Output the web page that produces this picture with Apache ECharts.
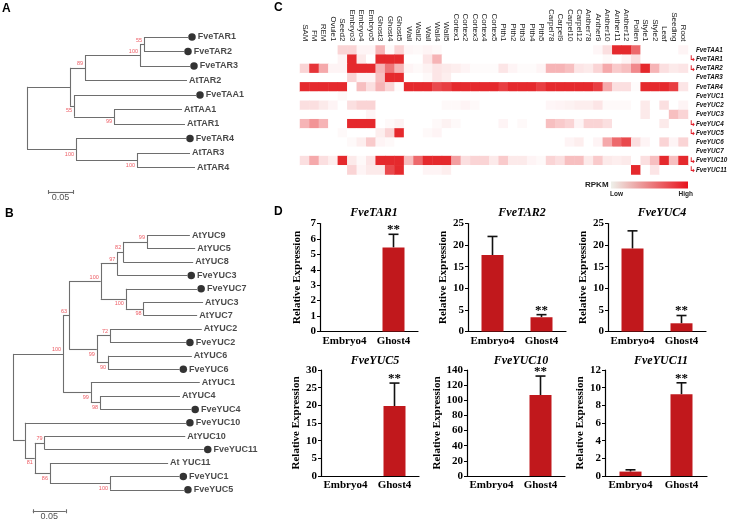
<!DOCTYPE html>
<html><head><meta charset="utf-8">
<script src="https://cdn.jsdelivr.net/npm/echarts@6/dist/echarts.min.js"></script>
<style>html,body{margin:0;padding:0;background:#fff}#c{width:729px;height:520px}</style>
</head><body><div id="c"></div>
<script>
// ---------- Panel A: TAA/TAR tree ----------
const treeALeaves = ['FveTAR1','FveTAR2','FveTAR3','AtTAR2','FveTAA1','AtTAA1','AtTAR1','FveTAR4','AtTAR3','AtTAR4'];
const treeALeafDepth = [0.322,0.314,0.326,0.320,0.338,0.310,0.316,0.318,0.326,0.336];
const treeANodes = ['a2','a1','a','b1','b','c1','cl1','cl2','root'];
const treeANodeKids = [['FveTAR1','FveTAR2'],['a2','FveTAR3'],['a1','AtTAR2'],['AtTAA1','AtTAR1'],['FveTAA1','b1'],['AtTAR3','AtTAR4'],['a','b'],['FveTAR4','c1'],['cl1','cl2']];
const treeANodeDepth = [0.234,0.226,0.116,0.174,0.094,0.220,0.086,0.098,0];
const treeANodeBoot = ['55','100','89','99','55','100','','100',''];
const treeAScale = 0.05;

// ---------- Panel B: YUC tree ----------
const treeBLeaves = ['AtYUC9','AtYUC5','AtYUC8','FveYUC3','FveYUC7','AtYUC3','AtYUC7','AtYUC2','FveYUC2','AtYUC6','FveYUC6','AtYUC1','AtYUC4','FveYUC4','FveYUC10','AtYUC10','FveYUC11','At YUC11','FveYUC1','FveYUC5'];
const treeBLeafDepth = [0.268,0.276,0.273,0.264,0.279,0.288,0.279,0.286,0.262,0.271,0.252,0.283,0.253,0.270,0.262,0.261,0.289,0.235,0.252,0.259];
const treeBNodes = ['n1','n2','n3','n4','n5','n6','n7','n8','n9','n10','n11','n12','n13','n15','n14','n16','n17','n18','root'];
const treeBNodeKids = [['AtYUC9','AtYUC5'],['n1','AtYUC8'],['n2','FveYUC3'],['AtYUC3','AtYUC7'],['FveYUC7','n4'],['n3','n5'],['AtYUC2','FveYUC2'],['AtYUC6','FveYUC6'],['n7','n8'],['n6','n9'],['AtYUC4','FveYUC4'],['AtYUC1','n11'],['n10','n12'],['FveYUC1','FveYUC5'],['At YUC11','n15'],['AtYUC10','FveYUC11'],['n16','n14'],['FveYUC10','n17'],['n13','n18']];
const treeBNodeDepth = [0.203,0.167,0.158,0.198,0.171,0.133,0.147,0.144,0.127,0.085,0.132,0.118,0.076,0.147,0.056,0.048,0.033,0.018,0];
const treeBNodeBoot = ['99','82','97','98','100','100','72','90','99','63','98','99','100','100','86','79','81','',''];
const treeBScale = 0.05;

// ---------- Panel C: RPKM heatmap ----------
const heatCols = ['SAM','FM','REM','Ovule1','Seed2','Embryo3','Embryo4','Embryo5','Ghost3','Ghost4','Ghost5','Wall','Wall2','Wall','Wall4','Wall5','Cortex1','Cortex2','Cortex3','Cortex4','Cortex5','Pith1','Pith2','Pith3','Pith4','Pith5','Carpel78','Carpel9','Carpel10','Carpel12','Anther78','Anther9','Anther10','Anther11','Anther12','Pollen','Style1','Style2','Leaf','Seeding','Root'];
const heatRows = ['FveTAA1','FveTAR1','FveTAR2','FveTAR3','FveTAR4','FveYUC1','FveYUC2','FveYUC3','FveYUC4','FveYUC5','FveYUC6','FveYUC7','FveYUC10','FveYUC11'];
const markedGenes = ['FveTAR1','FveTAR2','FveYUC4','FveYUC5','FveYUC10','FveYUC11'];
const rpkmTAA1  = [0,0,0,0,.2,.2,.05,.05,.35,.03, .2,.04,.03,.05,.03,0,0,0,0,0, 0,0,0,0,0,0,0,0,0,0, 0,.04,.15,1,1,.7,0,0,0,0,.05];
const rpkmTAR1  = [0,0,0,0,.05,1,.1,0,1,1, 1,0,0,.12,.35,0,0,0,0,0, 0,0,0,0,0,0,0,0,0,0, 0,0,.03,0,.05,.15,0,0,0,0,0];
const rpkmTAR2  = [.2,.95,.4,.05,.05,1,1,1,.35,.65, .35,.05,.03,.06,.12,.1,.08,.05,.02,.02, .02,.12,.05,.02,.02,.05,.35,.35,.3,.12, .1,.2,.4,.25,.3,.55,1,.35,.15,.1,.12];
const rpkmTAR3  = [0,0,0,0,0,.2,.05,.05,.3,1, 1,0,0,.03,.12,.08,0,0,0,0, 0,0,0,0,0,0,0,0,0,0, 0,0,0,0,0,0,0,0,0,0,0];
const rpkmTAR4  = [1,1,1,1,1,0,.3,.15,.35,.2, .02,1,1,1,.85,.9,1,1,1,1, 1,.9,1,1,1,.9,1,1,1,1, 1,.9,.4,.15,.15,.02,1,1,1,.9,.12];
const rpkmYUC1  = [0,0,0,0,.03,0,0,0,0,0, 0,0,0,0,0,0,0,0,0,0, 0,0,0,0,0,0,0,0,0,0, 0,0,0,0,0,0,0,0,0,0,0];
const rpkmYUC2  = [.15,.15,.1,.05,0,.15,.2,.2,0,0, 0,0,0,0,0,.03,.03,.05,.03,0, 0,0,0,0,0,0,.04,.05,.06,.08, .08,.12,.03,.03,.03,0,.1,0,.15,0,.05];
const rpkmYUC3  = [0,0,0,0,0,0,0,.05,0,0, 0,0,0,0,0,0,0,0,0,0, 0,0,0,0,0,0,0,0,0,0, 0,0,0,0,0,0,.1,0,0,.3,.2];
const rpkmYUC4  = [.35,.5,.35,0,0,1,1,1,0,.03, .06,0,0,0,.03,.06,.03,0,0,0, 0,.05,0,.03,0,0,.3,.25,.2,.05, .2,.2,.15,0,0,0,0,0,.1,0,0];
const rpkmYUC5  = [0,0,0,0,.03,0,0,0,.08,.2, 1,0,0,.03,.05,0,0,0,0,0, 0,0,0,0,0,0,0,0,0,0, 0,0,0,0,0,0,0,0,0,0,0];
const rpkmYUC6  = [0,0,0,0,0,.03,.08,.25,.05,.03, 0,0,0,0,0,0,0,0,0,0, 0,0,0,0,0,0,0,0,.05,.08, 0,.05,.4,.7,.85,.15,.05,0,.2,.05,.2];
const rpkmYUC7  = [0,0,0,0,0,0,0,0,0,0, 0,0,0,0,0,0,0,0,0,0, 0,0,0,0,0,0,0,0,0,0, 0,0,0,0,0,0,0,0,0,0,0];
const rpkmYUC10 = [.15,.4,.15,.08,1,.1,.03,.12,1,1, 1,.3,.7,1,1,1,.45,.15,.2,.2, .1,.25,.1,.1,.05,.03,.2,.15,.3,.3, .1,.25,.1,.08,.1,0,.15,.3,1,.3,1];
const rpkmYUC11 = [0,0,0,0,0,.2,.05,.1,.1,.85, 1,0,0,.05,.05,.08,0,0,0,0, 0,0,0,0,0,0,0,0,0,0, 0,0,0,0,0,1,0,.12,0,0,0];
const heatValues = [rpkmTAA1,rpkmTAR1,rpkmTAR2,rpkmTAR3,rpkmTAR4,rpkmYUC1,rpkmYUC2,rpkmYUC3,rpkmYUC4,rpkmYUC5,rpkmYUC6,rpkmYUC7,rpkmYUC10,rpkmYUC11];

// ---------- Panel D: qRT-PCR ----------
const qpcrGenes = ['FveTAR1','FveTAR2','FveYUC4','FveYUC5','FveYUC10','FveYUC11'];
const qpcrSamples = ['Embryo4','Ghost4'];
const qpcrMean = [[0,5.45],[17.7,3.3],[19.2,1.9],[0,19.8],[0,107],[0.5,9.25]];
const qpcrErr  = [[0,0.85],[4.3,0.6],[4.1,1.8],[0,6.5],[0,25],[0.2,1.3]];
const qpcrSig  = [['','**'],['','**'],['','**'],['','**'],['','**'],['','**']];
const qpcrYMax = [7,25,25,30,140,12];
const qpcrYStep = [1,5,5,5,20,2];

// ================= build =================
const chart = echarts.init(document.getElementById('c'));
const SANS = 'Liberation Sans';
const SERIF = 'Liberation Serif';

function buildTree(leaves, leafDepth, nodes, kids, depth, boot) {
  const pos = {};
  leaves.forEach((n, i) => { pos[n] = {x: leafDepth[i], y: i}; });
  const segs = [], boots = [];
  nodes.forEach((id, i) => {
    const k = kids[i].map(c => pos[c]);
    const x = depth[i];
    const y = (k[0].y + k[1].y) / 2;
    pos[id] = {x, y};
    segs.push({coords: [[x, k[0].y], [x, k[1].y]]});
    k.forEach(c => segs.push({coords: [[x, c.y], [c.x, c.y]]}));
    if (boot[i]) boots.push({id, name: boot[i], value: [x, y]});
  });
  return {segs, boots};
}

const grids = [], xAxes = [], yAxes = [], series = [];
const lineCol = '#6e6e6e';

function addTree(gi, left, top, pxPerUnit, pxPerLeaf, leaves, leafDepth, nodes, kids, depth, boot, below, scaleX0, scaleY, scaleLen) {
  const nLeaf = leaves.length;
  grids.push({left, top, width: 0.4 * pxPerUnit, height: (nLeaf - 1) * pxPerLeaf, outerBoundsMode: 'none'});
  xAxes.push({gridIndex: gi, type: 'value', min: 0, max: 0.4, show: false});
  yAxes.push({gridIndex: gi, type: 'value', min: 0, max: nLeaf - 1, inverse: true, show: false});
  const t = buildTree(leaves, leafDepth, nodes, kids, depth, boot);
  const tick = 2 / pxPerLeaf;
  t.segs.push({coords: [[scaleX0, scaleY], [scaleX0 + scaleLen, scaleY]]});
  t.segs.push({coords: [[scaleX0, scaleY - tick], [scaleX0, scaleY + tick]]});
  t.segs.push({coords: [[scaleX0 + scaleLen, scaleY - tick], [scaleX0 + scaleLen, scaleY + tick]]});
  series.push({type: 'lines', coordinateSystem: 'cartesian2d', xAxisIndex: gi, yAxisIndex: gi, polyline: false, silent: true, clip: false,
    lineStyle: {color: lineCol, width: 1.1, opacity: 1}, data: t.segs});
  series.push({type: 'scatter', xAxisIndex: gi, yAxisIndex: gi, clip: false, silent: true,
    data: leaves.map((n, i) => {
      const fve = n.indexOf('Fve') === 0;
      return {name: n, value: [leafDepth[i], i], symbol: 'circle', symbolSize: fve ? 7.5 : 0,
        symbolOffset: fve ? [4, 0] : [0, 0], itemStyle: {color: fve ? '#000' : 'rgba(0,0,0,0)'},
        label: {show: true, position: 'right', distance: 2, formatter: '{b}',
          color: '#1a1a1a', fontSize: 9, fontWeight: 'bold', fontFamily: SANS}};
    })});
  series.push({type: 'scatter', xAxisIndex: gi, yAxisIndex: gi, clip: false, silent: true, symbolSize: 0,
    data: t.boots.map(b => ({name: b.name, value: b.value,
      label: {show: true, position: 'left', distance: 2, offset: [0, below.has(b.id) ? 5 : -4], formatter: '{b}',
        color: '#e8303a', fontSize: 5.5, fontFamily: SANS}}))});
  series.push({type: 'scatter', xAxisIndex: gi, yAxisIndex: gi, clip: false, silent: true, symbolSize: 0,
    data: [{name: String(scaleLen), value: [scaleX0 + scaleLen / 2, scaleY],
      label: {show: true, position: 'bottom', distance: 1, formatter: '{b}', color: '#222', fontSize: 9, fontFamily: SANS}}]});
}

addTree(0, 27, 37, 500, 14.5, treeALeaves, treeALeafDepth, treeANodes, treeANodeKids, treeANodeDepth, treeANodeBoot,
  new Set(['b1', 'b', 'c1', 'cl2']), 0.042, 10.69, treeAScale);
addTree(1, 13, 235.2, 660, 13.4, treeBLeaves, treeBLeafDepth, treeBNodes, treeBNodeKids, treeBNodeDepth, treeBNodeBoot,
  new Set(['n5', 'n4', 'n9', 'n8', 'n12', 'n11', 'n17', 'n14', 'n15']), 0.030, 20.6, treeBScale);

// heatmap
grids.push({left: 300, top: 45.5, width: 388, height: 129, outerBoundsMode: 'none'});
xAxes.push({gridIndex: 2, type: 'category', data: heatCols, position: 'top',
  axisLine: {show: false}, axisTick: {show: false}, splitLine: {show: false},
  axisLabel: {interval: 0, rotate: 90, margin: 4, fontSize: 8, color: '#222', fontFamily: SANS}});
yAxes.push({gridIndex: 2, type: 'category', data: heatRows, inverse: true, position: 'right',
  axisLine: {show: false}, axisTick: {show: false}, splitLine: {show: false},
  axisLabel: {interval: 0, margin: 1, align: 'left',
    formatter: v => (markedGenes.indexOf(v) >= 0 ? '{a|↳}' : '{s|}') + '{n|' + v + '}',
    rich: {a: {color: '#e0202a', fontSize: 8, fontWeight: 'bold', width: 7, fontFamily: 'DejaVu Sans'},
      s: {width: 7},
      n: {fontSize: 6.3, fontStyle: 'italic', fontWeight: 'bold', color: '#111', fontFamily: SANS}}}});
const heatData = [];
heatValues.forEach((row, r) => row.forEach((v, c) => heatData.push([c, r, v])));
const heatSeriesIndex = series.length;
series.push({type: 'heatmap', xAxisIndex: 2, yAxisIndex: 2, data: heatData, silent: true,
  itemStyle: {borderWidth: 0}, emphasis: {disabled: true}});

// bar charts
const barLayout = [
  {left: 320, top: 223.5}, {left: 468, top: 223.5}, {left: 608, top: 223.5},
  {left: 321, top: 370}, {left: 467, top: 370}, {left: 605, top: 370}];
const titleY = [213, 213, 213, 361, 361, 361];
const graphics = [];
qpcrGenes.forEach((g, k) => {
  const gi = 3 + k;
  const L = barLayout[k];
  const w = k === 5 ? 102 : 98;
  const h = k < 3 ? 108 : 106;
  grids.push({left: L.left, top: L.top, width: w, height: h, outerBoundsMode: 'none'});
  xAxes.push({gridIndex: gi, type: 'category', data: qpcrSamples,
    axisLine: {show: true, lineStyle: {color: '#000', width: 1.2}}, axisTick: {show: false},
    axisLabel: {interval: 0, margin: 4, fontSize: 11, fontWeight: 'bold', color: '#000', fontFamily: SERIF}});
  yAxes.push({gridIndex: gi, type: 'value', min: 0, max: qpcrYMax[k], interval: qpcrYStep[k],
    axisLine: {show: true, lineStyle: {color: '#000', width: 1.2}},
    axisTick: {show: true, length: 3, lineStyle: {color: '#000'}}, splitLine: {show: false},
    axisLabel: {margin: 4, fontSize: 11, fontWeight: 'bold', color: '#000', fontFamily: SERIF},
    name: 'Relative Expression', nameLocation: 'middle', nameGap: k === 4 ? 19 : (k === 5 ? 14 : 17), nameRotate: 90,
    nameTextStyle: {fontSize: 11, fontWeight: 'bold', color: '#000', fontFamily: SERIF}});
  series.push({type: 'bar', xAxisIndex: gi, yAxisIndex: gi, data: qpcrMean[k], barWidth: 22, silent: true,
    itemStyle: {color: '#c1181c'}});
  series.push({type: 'custom', xAxisIndex: gi, yAxisIndex: gi, silent: true, clip: false,
    data: qpcrSamples.map((s, j) => [j, qpcrMean[k][j], qpcrErr[k][j]]),
    renderItem: (params, api) => {
      const j = api.value(0), m = api.value(1), e = api.value(2);
      const base = api.coord([j, m]);
      const top = api.coord([j, m + e]);
      const children = [];
      if (e > 0) {
        children.push({type: 'line', shape: {x1: base[0], y1: base[1], x2: top[0], y2: top[1]}, style: {stroke: '#111', lineWidth: 1.6}});
        children.push({type: 'line', shape: {x1: top[0] - 5, y1: top[1], x2: top[0] + 5, y2: top[1]}, style: {stroke: '#111', lineWidth: 1.6}});
      }
      const sig = qpcrSig[k][params.dataIndex];
      if (sig) children.push({type: 'text', x: top[0], y: top[1] - 4.5,
        style: {text: sig, fill: '#000', align: 'center', verticalAlign: 'middle', fontSize: 13, fontWeight: 'bold', fontFamily: SERIF}});
      return {type: 'group', children};
    }});
  graphics.push({type: 'text', x: L.left + w / 2 + 5, y: titleY[k],
    style: {text: g, align: 'center', verticalAlign: 'middle', fill: '#000', fontSize: 12, fontWeight: 'bold', fontStyle: 'italic', fontFamily: SERIF}});
});

// panel letters and legend
[['A', 2, 3], ['B', 5, 208], ['C', 274, 2], ['D', 274, 206]].forEach(p => graphics.push({type: 'text', x: p[1], y: p[2],
  style: {text: p[0], fill: '#000', fontSize: 12, fontWeight: 'bold', fontFamily: SANS}}));
graphics.push({type: 'text', x: 585, y: 185, style: {text: 'RPKM', fill: '#222', fontSize: 8, fontWeight: 'bold', verticalAlign: 'middle', fontFamily: SANS}});
graphics.push({type: 'rect', shape: {x: 611, y: 181.5, width: 77, height: 7},
  style: {fill: new echarts.graphic.LinearGradient(0, 0, 1, 0, [{offset: 0, color: '#eef0ea'}, {offset: 1, color: '#e8121c'}])}});
graphics.push({type: 'text', x: 610, y: 194, style: {text: 'Low', fill: '#222', fontSize: 6.5, fontWeight: 'bold', verticalAlign: 'middle', fontFamily: SANS}});
graphics.push({type: 'text', x: 693, y: 194, style: {text: 'High', fill: '#222', fontSize: 6.5, fontWeight: 'bold', align: 'right', verticalAlign: 'middle', fontFamily: SANS}});

chart.setOption({
  animation: false,
  backgroundColor: '#fff',
  grid: grids, xAxis: xAxes, yAxis: yAxes,
  visualMap: [{type: 'continuous', show: false, min: 0, max: 1, dimension: 2, seriesIndex: heatSeriesIndex,
    inRange: {color: ['#ffffff', '#e5292d']}}],
  series,
  graphic: graphics
});
</script></body></html>
